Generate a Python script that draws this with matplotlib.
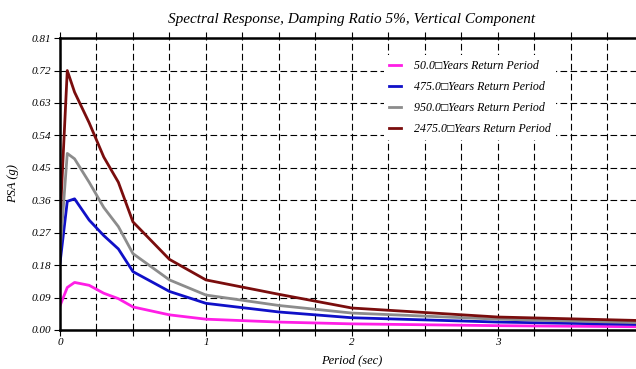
import matplotlib
matplotlib.use("Agg")
import matplotlib.pyplot as plt
from matplotlib.ticker import MultipleLocator, FixedLocator

plt.rcParams['font.family'] = ['Liberation Serif', 'DejaVu Serif']
plt.rcParams['font.style'] = 'italic'

period = [0.0, 0.05, 0.1, 0.2, 0.3, 0.4, 0.5, 0.75, 1.0, 1.5, 2.0, 3.0, 4.0]
psa_50 = [0.067, 0.118, 0.132, 0.124, 0.102, 0.087, 0.064, 0.042, 0.030, 0.022, 0.017, 0.012, 0.009]
psa_475 = [0.185, 0.357, 0.364, 0.305, 0.262, 0.225, 0.162, 0.107, 0.074, 0.050, 0.034, 0.022, 0.015]
psa_950 = [0.215, 0.490, 0.475, 0.410, 0.340, 0.287, 0.212, 0.139, 0.097, 0.068, 0.047, 0.030, 0.020]
psa_2475 = [0.300, 0.720, 0.660, 0.575, 0.480, 0.410, 0.300, 0.196, 0.139, 0.099, 0.061, 0.036, 0.026]

labels = ['50.0\u25a1Years Return Period', '475.0\u25a1Years Return Period',
          '950.0\u25a1Years Return Period', '2475.0\u25a1Years Return Period']
colors = ['#ff1ee6', '#1010c8', '#8c8c8c', '#7a0d0d']
xticks = [0, 1, 2, 3]

fig = plt.figure(figsize=(6.36, 3.69), dpi=100)
ax = fig.add_axes([0.0943, 0.1057, 0.918, 0.791])

for y, lab, c in zip([psa_50, psa_475, psa_950, psa_2475], labels, colors):
    ax.plot(period, y, color=c, lw=2, label=lab)

ax.set_xlim(0, 4)
ax.set_ylim(0, 0.81)
ax.xaxis.set_major_locator(FixedLocator(xticks))
ax.xaxis.set_minor_locator(MultipleLocator(0.25))
ax.yaxis.set_major_locator(MultipleLocator(0.09))
ax.yaxis.set_major_formatter(plt.FuncFormatter(lambda v, p: f'{v:.2f}'))
ax.grid(True, which='both', color='black', ls=(0, (6, 3)), lw=0.8)

for s in ['left', 'bottom', 'top']:
    ax.spines[s].set_linewidth(1.8)
ax.spines['right'].set_visible(False)
ax.tick_params(axis='both', which='both', direction='out', length=4, width=0.8,
               labelsize=8, pad=2)
ax.tick_params(axis='x', which='both', top=True)

ax.set_title('Spectral Response, Damping Ratio 5%, Vertical Component',
             fontsize=11, pad=11)
ax.set_xlabel('Period (sec)', fontsize=9, labelpad=5)
ax.set_ylabel('PSA (g)', fontsize=9, labelpad=9)

leg = ax.legend(loc='upper left', bbox_to_anchor=(0.545, 0.962), frameon=True,
                fontsize=8.6, handlelength=1.0, handletextpad=1.1,
                labelspacing=0.75, fancybox=False, framealpha=1)
leg.get_frame().set_edgecolor('none')
leg.get_frame().set_facecolor('white')

fig.savefig('out.png', dpi=100)
